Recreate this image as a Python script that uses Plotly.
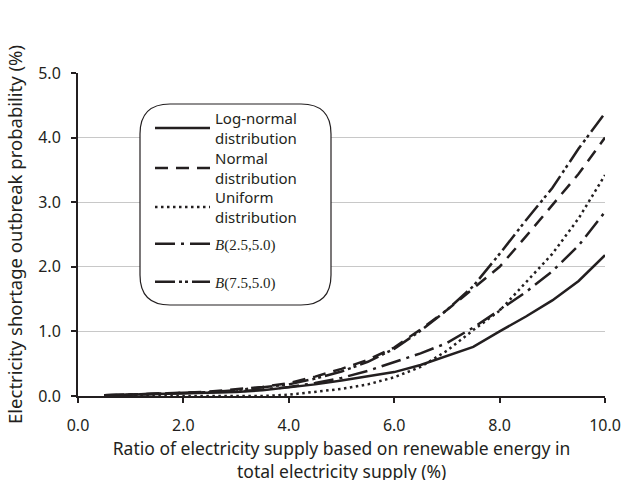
import plotly.graph_objects as go

# ---- data ----
x_ratio = [0.5, 1.0, 1.5, 2.0, 2.5, 3.0, 3.5, 4.0, 4.5, 5.0,
           5.5, 6.0, 6.5, 7.0, 7.5, 8.0, 8.5, 9.0, 9.5, 10.0]

lognormal = [0.01, 0.02, 0.02, 0.03, 0.04, 0.06, 0.09, 0.13, 0.18, 0.24,
             0.30, 0.37, 0.48, 0.62, 0.76, 1.00, 1.23, 1.48, 1.78, 2.18]
normal = [0.01, 0.02, 0.03, 0.05, 0.07, 0.10, 0.14, 0.20, 0.30, 0.42,
          0.56, 0.75, 1.03, 1.33, 1.66, 2.00, 2.47, 2.96, 3.44, 4.00]
uniform = [0.0, 0.0, 0.0, 0.0, 0.0, 0.0, 0.0, 0.02, 0.06, 0.11,
           0.18, 0.29, 0.45, 0.70, 1.02, 1.32, 1.76, 2.20, 2.75, 3.42]
beta_25_50 = [0.01, 0.02, 0.03, 0.04, 0.05, 0.07, 0.10, 0.14, 0.20, 0.28,
              0.39, 0.52, 0.66, 0.82, 1.06, 1.33, 1.61, 1.93, 2.33, 2.85]
beta_75_50 = [0.01, 0.02, 0.03, 0.04, 0.06, 0.09, 0.13, 0.18, 0.27, 0.38,
              0.53, 0.73, 1.01, 1.33, 1.70, 2.20, 2.72, 3.22, 3.83, 4.38]

x_ticks = [0, 2, 4, 6, 8, 10]
y_ticks = [0, 1, 2, 3, 4, 5]

x_title_line1 = "Ratio of electricity supply based on renewable energy in"
x_title_line2 = "total electricity supply (%)"
y_title = "Electricity shortage outbreak probability (%)"

INK = "#231f20"
SANS = "Noto Sans"
SERIF = "Liberation Serif"

series = [
    ("Log-normal<br>distribution", lognormal, "solid"),
    ("Normal<br>distribution", normal, "13px,8px"),
    ("Uniform<br>distribution", uniform, "2.5px,3.5px"),
    (f"<span style='font-family:{SERIF}'><i>B</i>(2.5,5.0)</span>", beta_25_50, "20px,6px,3px,6px"),
    (f"<span style='font-family:{SERIF}'><i>B</i>(7.5,5.0)</span>", beta_75_50, "20px,4px,3px,3px,3px,4px"),
]
# vertical pixel centre of each legend entry in the reference
legend_py = [128, 168, 207, 244, 282]

# plot area in px: x 78..605, y 73..396
W, H = 643, 480
L, R, T, B = 78, 38, 73, 84
pw, ph = W - L - R, H - T - B

def px2paper(px, py):
    return (px - L) / pw, (H - B - py) / ph

fig = go.Figure()
legends = {}
for i, ((name, ys, dash), py) in enumerate(zip(series, legend_py)):
    key = "legend" if i == 0 else f"legend{i+1}"
    fig.add_trace(go.Scatter(
        x=x_ratio, y=ys, mode="lines", name=name, legend=key, showlegend=True,
        line=dict(color=INK, width=2.5, dash=dash),
    ))
    lx, ly = px2paper(150, py)
    legends[key] = dict(x=lx, y=ly, xanchor="left", yanchor="middle",
                        bgcolor="rgba(0,0,0,0)", borderwidth=0, visible=True,
                        font=dict(family=SANS, size=15, color=INK),
                        itemwidth=55)

# rounded legend box
x0, y0 = px2paper(140, 104)
x1, y1 = px2paper(331, 305)
rx, ry = 30 / pw, 30 / ph
path = (f"M {x0+rx} {y0} L {x1-rx} {y0} Q {x1} {y0} {x1} {y0-ry} "
        f"L {x1} {y1+ry} Q {x1} {y1} {x1-rx} {y1} "
        f"L {x0+rx} {y1} Q {x0} {y1} {x0} {y1+ry} "
        f"L {x0} {y0-ry} Q {x0} {y0} {x0+rx} {y0} Z")

_, line2_y = px2paper(0, 471)

fig.update_layout(
    width=W, height=H, autosize=False,
    margin=dict(l=L, r=R, t=T, b=B, pad=0, autoexpand=False),
    paper_bgcolor="white", plot_bgcolor="white",
    showlegend=True,
    font=dict(family=SANS, size=16, color=INK),
    shapes=[dict(type="path", path=path, xref="paper", yref="paper",
                 line=dict(color=INK, width=1.2), fillcolor="white", layer="above")],
    annotations=[dict(text=x_title_line2, xref="paper", yref="paper",
                      x=0.5, y=line2_y, xanchor="center", yanchor="middle",
                      showarrow=False, font=dict(family=SANS, size=17.5, color=INK))],
    xaxis=dict(range=[0, 10], tickvals=x_ticks, tickformat=".1f",
               showline=True, linecolor=INK, linewidth=2,
               ticks="outside", ticklen=5, tickwidth=2, tickcolor=INK,
               showgrid=False, zeroline=False, ticklabelstandoff=9,
               tickfont=dict(size=16), automargin=False,
               title=dict(text=x_title_line1, font=dict(size=17.5), standoff=4)),
    yaxis=dict(range=[0, 5], tickvals=y_ticks, tickformat=".1f",
               showline=True, linecolor=INK, linewidth=2,
               ticks="outside", ticklen=5, tickwidth=2, tickcolor=INK,
               showgrid=True, gridcolor="#c8c8c8", gridwidth=1.2,
               zeroline=False, ticklabelstandoff=7,
               tickfont=dict(size=16), automargin=False,
               title=dict(text=y_title, font=dict(size=18.5), standoff=11)),
    **legends,
)

fig.write_html("out.html", config={"displayModeBar": False},
               post_script="document.body.style.margin='0';")
